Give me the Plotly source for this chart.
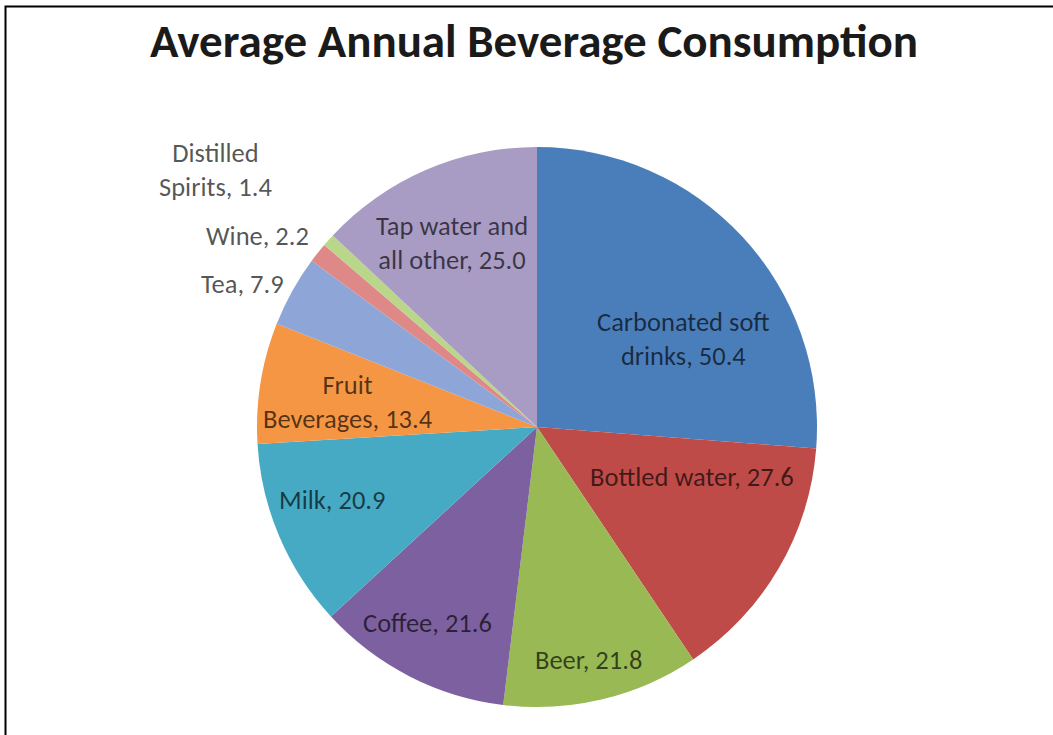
import math
import plotly.graph_objects as go

# ---- data ----
categories = ["Carbonated soft drinks", "Bottled water", "Beer", "Coffee", "Milk",
              "Fruit Beverages", "Tea", "Wine", "Distilled Spirits", "Tap water and all other"]
values = [50.4, 27.6, 21.8, 21.6, 20.9, 13.4, 7.9, 2.2, 1.4, 25.0]

# ---- styles / label placement ----
colors = ["#4A7EBB", "#BE4B48", "#98B954", "#7D60A0", "#46AAC5",
          "#F59645", "#8EA6D7", "#DE8987", "#B9D68B", "#A89BC4"]
wrap = {"Carbonated soft drinks": "Carbonated soft<br>drinks",
        "Fruit Beverages": "Fruit<br>Beverages",
        "Distilled Spirits": "Distilled<br>Spirits",
        "Tap water and all other": "Tap water and<br>all other"}
label_radius = [0.609, 0.582, 0.852, 0.803, 0.777, 0.681, 1.171, 1.208, 1.469, 0.724]
label_shift = [11.7, -12.35, 1.1, 2.1, 3.4, -1.6, -3.1, -4.1, -3.2, -1.4]

W, H = 1053, 735
dom_x = [(537 - 280) / W, (537 + 280) / W]
dom_y = [1 - (427 + 280) / H, 1 - (427 - 280) / H]
FONT = "Calibri, Carlito, Lato, sans-serif"

fig = go.Figure(go.Pie(
    labels=categories, values=values, sort=False, direction="clockwise", rotation=0,
    marker=dict(colors=colors, line=dict(width=0)),
    textinfo="none", hoverinfo="label+value", showlegend=False,
    domain=dict(x=dom_x, y=dom_y),
))

# label positions computed from the slice angles
cx = (dom_x[0] + dom_x[1]) / 2 * W
cy = (1 - (dom_y[0] + dom_y[1]) / 2) * H
R = min((dom_x[1] - dom_x[0]) * W, (dom_y[1] - dom_y[0]) * H) / 2
total = sum(values)
cum = 0.0
annotations = []
for name, v, rr, sh in zip(categories, values, label_radius, label_shift):
    mid = (cum + v / 2) / total * 360
    cum += v
    th = math.radians(mid + sh)
    px = cx + rr * R * math.sin(th)
    py = cy - rr * R * math.cos(th)
    outside = rr > 1
    annotations.append(dict(
        x=px / W, y=1 - py / H, xref="paper", yref="paper",
        text=f"{wrap.get(name, name)}, {v:.1f}", showarrow=False,
        xanchor="center", yanchor="middle", align="center",
        font=dict(family=FONT, size=26.5,
                  color="rgba(0,0,0,0.66)" if not outside else "rgba(0,0,0,0.68)"),
    ))

fig.update_layout(
    width=W, height=H, margin=dict(l=0, r=0, t=0, b=0),
    paper_bgcolor="white", plot_bgcolor="white",
    title=dict(text="<b>Average Annual Beverage Consumption</b>",
               x=534 / W, xanchor="center", y=1 - 41 / H, yanchor="middle",
               font=dict(family=FONT, size=47, color="#1a1a1a")),
    annotations=annotations,
    shapes=[dict(type="rect", xref="paper", yref="paper",
                 x0=5.5 / W, x1=1.1, y0=-0.1, y1=1 - 6.5 / H,
                 line=dict(color="black", width=2), fillcolor="rgba(0,0,0,0)")],
)

fig.write_html("out.html", config={"displayModeBar": False},
               post_script="document.body.style.margin='0';")
